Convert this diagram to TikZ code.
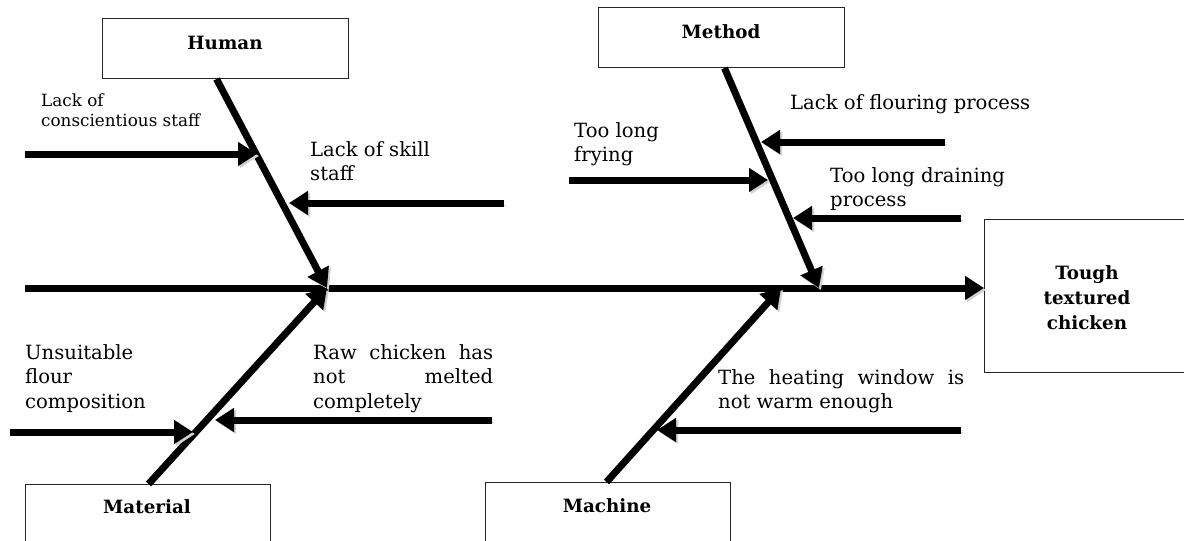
\documentclass[tikz,border=0pt]{standalone}
\usepackage{fontspec}
\setmainfont{DejaVu Serif}
\usetikzlibrary{arrows.meta}
\newcommand\lstr{\rule{0pt}{20pt}}
\begin{document}
\begin{tikzpicture}[x=1pt,y=-1pt,
  bone/.style={line width=7pt,-{Triangle[length=19pt,width=23pt]},
    preaction={draw=black!18,transform canvas={shift={(2pt,-2pt)}}}},
  catbox/.style={draw=black!85,line width=1pt,rectangle,inner sep=0pt,anchor=north west},
  cat/.style={font=\bfseries\fontsize{18.3}{25}\selectfont,inner sep=0pt},
  lbl/.style={anchor=north west,inner sep=0pt,align=left,font=\fontsize{19.6}{24.5}\selectfont},
  smalllbl/.style={lbl,font=\fontsize{16.8}{20}\selectfont}]
\useasboundingbox (0,0) rectangle (1184,541);
% category boxes
\node[catbox,minimum width=246pt,minimum height=60pt] (human) at (102,18) {};
\node[catbox,minimum width=246pt,minimum height=60pt] (method) at (598,7) {};
\node[catbox,minimum width=245pt,minimum height=70pt] (material) at (25,484) {};
\node[catbox,minimum width=245pt,minimum height=70pt] (machine) at (485,482) {};
\node[catbox,minimum width=210pt,minimum height=153pt] (effect) at (984,219) {};
\node[cat] (humant) at (225,43) {Human};
\node[cat] (methodt) at (721,32) {Method};
\node[cat] (materialt) at (147,507) {Material};
\node[cat] (machinet) at (607,506) {Machine};
\node[cat,anchor=north,align=center] (effectt) at (1087,259) {\lstr Tough\\textured\\chicken};
% spine
\coordinate (tail) at (25,288);
\draw[bone] (tail) -- (effect.west |- tail);
% junctions on spine
\coordinate (j1) at (327,288);
\coordinate (j2) at (819,288);
\coordinate (j3) at (781,288);
% main bones
\draw[bone] ([xshift=-9pt]human.south) -- (j1);
\draw[bone] ([xshift=3pt]method.south) -- (j2);
\draw[bone] ([xshift=0.5pt]material.north) -- (j1);
\draw[bone] ([xshift=-1.5pt]machine.north) -- (j3);
% causes
\coordinate (s1) at (25,154);  \coordinate (e1) at (257,154);
\coordinate (s2) at (504,203); \coordinate (e2) at (289,203);
\coordinate (s3) at (945,142); \coordinate (e3) at (761,142);
\coordinate (s4) at (569,180); \coordinate (e4) at (768,180);
\coordinate (s5) at (961,218); \coordinate (e5) at (793,218);
\coordinate (s6) at (10,432);  \coordinate (e6) at (193,432);
\coordinate (s7) at (492,420); \coordinate (e7) at (215,420);
\coordinate (s8) at (961,430); \coordinate (e8) at (657,430);
\foreach \i in {1,...,8} {\draw[bone] (s\i) -- (e\i);}
% labels
\node[smalllbl] (l1) at (41,86) {\lstr Lack of\\conscientious staff};
\node[lbl] (l2) at (310,136) {\lstr Lack of skill\\staff};
\node[lbl] (l3) at (790,89) {\lstr Lack of flouring process};
\node[lbl] (l4) at (574,117) {\lstr Too long\\frying};
\node[lbl] (l5) at (830,162) {\lstr Too long draining\\process};
\node[lbl] (l6) at (25,339) {\lstr Unsuitable\\flour\\composition};
\node[lbl] (l7) at (313,339) {\lstr\makebox[180pt][s]{Raw chicken has}\\\makebox[180pt][s]{not melted}\\completely};
\node[lbl] (l8) at (718,364) {\lstr\makebox[246pt][s]{The heating window is}\\not warm enough};
\end{tikzpicture}
\end{document}
